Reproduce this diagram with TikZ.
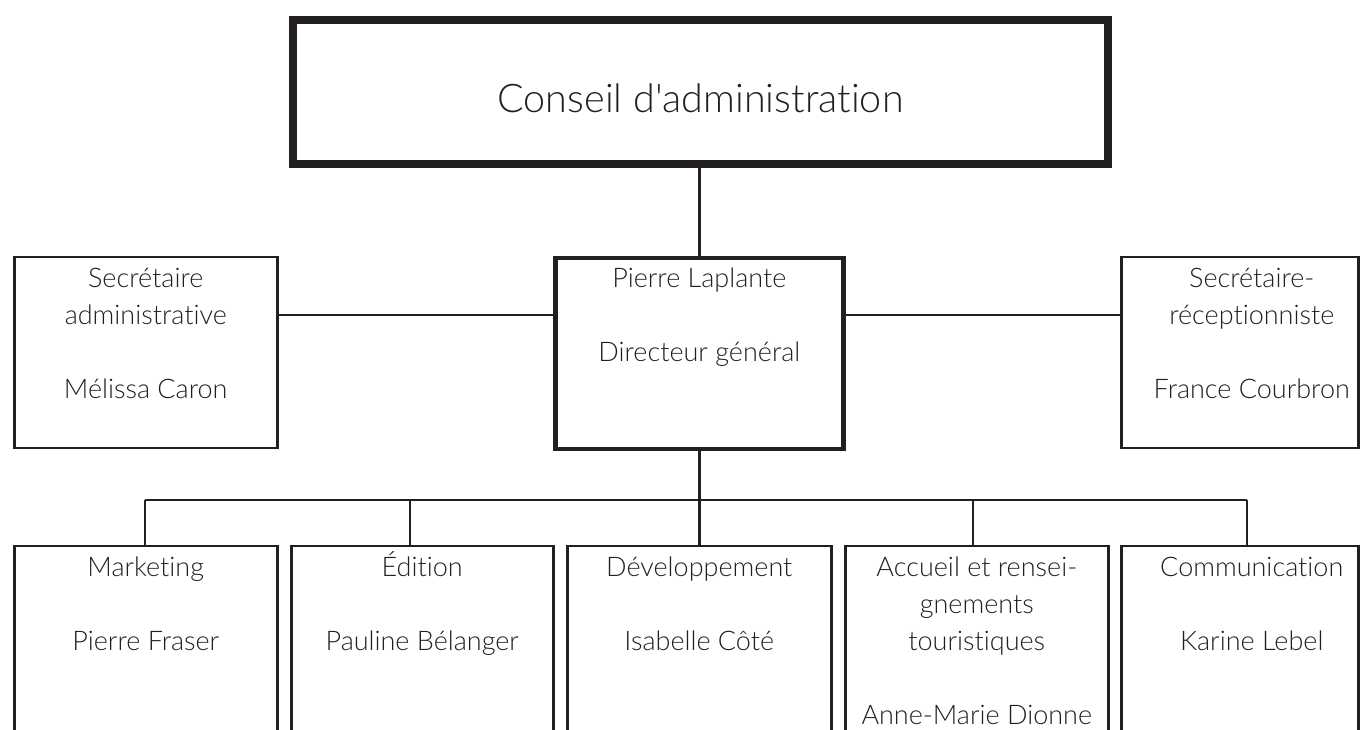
\documentclass[tikz,border=0pt]{standalone}
\usepackage{fontspec}
\setmainfont{Lato Light}[Ligatures=NoCommon]
\usetikzlibrary{calc,positioning}
\definecolor{ink}{RGB}{35,31,32}
\tikzset{
  orgbox/.style={draw=ink, line width=2.5pt, anchor=north west, inner sep=0pt},
  orgtext/.style={anchor=north, align=center, inner sep=0pt, text=ink,
    font=\fontsize{27}{37}\selectfont},
  link/.style={draw=ink, line width=2.5pt}
}
\def\fl{\rule{0pt}{26pt}}

\begin{document}
\begin{tikzpicture}[x=1pt, y=1pt]
			%%%%% START %%%%%
			\useasboundingbox (0,0) rectangle (1370,730);
			\clip (0,0) rectangle (1370,730);
			
			% conseil
			\node[orgbox, line width=8pt, minimum width=815, minimum height=144] (ca) at (289,714) {};
			\node[text=ink, font=\fontsize{39.5}{46}\selectfont] at ($(ca.center)+(0,-6)$) {Conseil d\textquotesingle administration};
			
			% direction
			\node[orgbox, line width=4.5pt, minimum width=288, minimum height=191] (dg) at (553,474) {};
			\node[orgtext] at ($(dg.north)+(0,-5)$) {\fl Pierre Laplante\\[37pt]Directeur g\'en\'eral};
			
			\node[orgbox, minimum width=263, minimum height=191] (sa) at (13,474) {};
			\node[orgtext] at ($(sa.north)+(0,-5)$) {\fl Secr\'etaire\\administrative\\[37pt]M\'elissa Caron};
			
			\node[orgbox, minimum width=237, minimum height=191] (sr) at (1120,474) {};
			\node[orgtext] at ($(sr.north)+(12,-5)$) {\fl Secr\'etaire-\\r\'eceptionniste\\[37pt]France Courbron};
			
			% services
			\node[orgbox, minimum width=263, minimum height=260] (mk) at (13,185) {};
			\node[orgtext] at ($(mk.north)+(0,-5)$) {\fl Marketing\\[37pt]Pierre Fraser};
			
			\node[orgbox, minimum width=262, minimum height=260] (ed) at (290,185) {};
			\node[orgtext] at ($(ed.north)+(0,-5)$) {\fl \'Edition\\[37pt]Pauline B\'elanger};
			
			\node[orgbox, minimum width=264, minimum height=260] (dv) at (566,185) {};
			\node[orgtext] at ($(dv.north)+(0,-5)$) {\fl D\'eveloppement\\[37pt]Isabelle C\^ot\'e};
			
			\node[orgbox, minimum width=263, minimum height=260] (ac) at (844,185) {};
			\node[orgtext] at ($(ac.north)+(0,-5)$) {\fl Accueil et rensei-\\gnements\\touristiques\\[37pt]Anne-Marie Dionne};
			
			\node[orgbox, minimum width=237, minimum height=260] (cm) at (1120,185) {};
			\node[orgtext] at ($(cm.north)+(12,-5)$) {\fl Communication\\[37pt]Karine Lebel};
			
			% liens
			\coordinate (mid) at (697,415);
			\coordinate (b1) at (145,230);
			\coordinate (b2) at (410,230);
			\coordinate (b3) at (697,230);
			\coordinate (b4) at (973,230);
			\coordinate (b5) at (1247,230);
			
			\draw[link] (dg.north) -- (dg.north |- ca.south);
			\draw[link] (sa.east |- mid) -- (dg.west |- mid);
			\draw[link] (dg.east |- mid) -- (sr.west |- mid);
			\draw[link] (dg.south) -- (dg.south |- b3);
			\draw[link] (b1) -- (b5);
			\draw[link] (b1) -- (b1 |- mk.north);
			\draw[link] (b2) -- (b2 |- ed.north);
			\draw[link] (dg.south |- b3) -- (dg.south |- dv.north);
			\draw[link] (b4) -- (b4 |- ac.north);
			\draw[link] (b5) -- (b5 |- cm.north);
			%%%%% END %%%%%
\end{tikzpicture}
\end{document}
